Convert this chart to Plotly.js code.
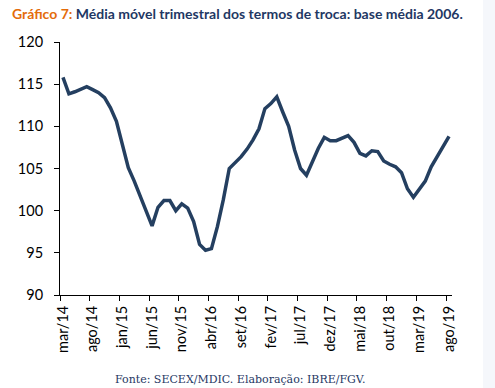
<!DOCTYPE html>
<html>
<head>
<meta charset="utf-8">
<script src="https://cdn.plot.ly/plotly-3.0.1.min.js"></script>
<style>
  html, body { margin: 0; padding: 0; background: #f5f7fb; }
  #chart { width: 483px; height: 388px; background: #ffffff; }
</style>
</head>
<body>
<div id="chart"></div>
<script>
var months = [
  "mar/14","abr/14","mai/14","jun/14","jul/14","ago/14","set/14","out/14","nov/14","dez/14",
  "jan/15","fev/15","mar/15","abr/15","mai/15","jun/15","jul/15","ago/15","set/15","out/15",
  "nov/15","dez/15","jan/16","fev/16","mar/16","abr/16","mai/16","jun/16","jul/16","ago/16",
  "set/16","out/16","nov/16","dez/16","jan/17","fev/17","mar/17","abr/17","mai/17","jun/17",
  "jul/17","ago/17","set/17","out/17","nov/17","dez/17","jan/18","fev/18","mar/18","abr/18",
  "mai/18","jun/18","jul/18","ago/18","set/18","out/18","nov/18","dez/18","jan/19","fev/19",
  "mar/19","abr/19","mai/19","jun/19","jul/19","ago/19"
];
var termsOfTrade = [
  115.8, 113.85, 114.1, 114.4, 114.7, 114.35, 114.0, 113.4, 112.2, 110.6,
  107.8, 105.1, 103.5, 101.8, 100.1, 98.2, 100.4, 101.2, 101.2, 100.0,
  100.8, 100.3, 98.7, 96.0, 95.3, 95.5, 98.1, 101.3, 105.0, 105.7,
  106.4, 107.3, 108.4, 109.7, 112.1, 112.7, 113.5, 111.7, 110.0, 107.2,
  105.0, 104.2, 105.8, 107.4, 108.7, 108.3, 108.3, 108.6, 108.9, 108.1,
  106.8, 106.5, 107.1, 107.0, 105.9, 105.5, 105.2, 104.5, 102.6, 101.6,
  102.5, 103.5, 105.2, 106.4, 107.7, 108.8
];
var yTicks = [90, 95, 100, 105, 110, 115, 120];
var titleLead = "Gráfico 7:";
var titleRest = "Média móvel trimestral dos termos de troca: base média 2006.";
var sourceNote = "Fonte: SECEX/MDIC. Elaboração: IBRE/FGV.";

var trace = {
  type: "scatter",
  mode: "lines",
  x: months,
  y: termsOfTrade,
  line: { color: "#243F60", width: 3.5 },
  hoverinfo: "x+y"
};

var layout = {
  width: 483,
  height: 388,
  margin: { l: 60, r: 31, t: 42, b: 93 },
  paper_bgcolor: "#ffffff",
  plot_bgcolor: "#ffffff",
  showlegend: false,
  font: { family: "Lato, 'Open Sans', sans-serif", size: 14, color: "#000000" },
  title: {
    text: '<span style="color:#E46C0A">' + titleLead + '</span> ' + titleRest,
    font: { family: "Lato, 'Open Sans', sans-serif", size: 14, color: "#1F3864", weight: "bold" },
    xref: "container", x: 12 / 483, xanchor: "left",
    yref: "container", y: 1 - 14 / 388, yanchor: "middle"
  },
  xaxis: {
    type: "category",
    range: [-0.5, 65.5],
    tickmode: "linear",
    tick0: 0,
    dtick: 5,
    tickson: "boundaries",
    ticks: "outside",
    ticklen: 5,
    tickcolor: "#000000",
    tickwidth: 1,
    tickangle: -90,
    ticklabelstandoff: 4,
    showline: true,
    linecolor: "#000000",
    linewidth: 1,
    showgrid: false,
    zeroline: false,
    fixedrange: true,
    tickfont: { family: "Lato, 'Open Sans', sans-serif", size: 14.5, color: "#000000" }
  },
  yaxis: {
    range: [90, 120],
    tickmode: "array",
    tickvals: yTicks,
    ticktext: yTicks.map(String),
    ticks: "outside",
    ticklen: 5,
    tickcolor: "#000000",
    tickwidth: 1,
    ticklabelstandoff: 8,
    showline: true,
    linecolor: "#000000",
    linewidth: 1,
    showgrid: false,
    zeroline: false,
    fixedrange: true,
    tickfont: { family: "Lato, 'Open Sans', sans-serif", size: 14.5, color: "#000000" }
  },
  annotations: [{
    text: sourceNote,
    xref: "paper", yref: "paper",
    x: (240 - 60) / 392,
    y: -(379 - 294.5) / 252.5,
    xanchor: "center", yanchor: "middle",
    showarrow: false,
    font: { family: "'DejaVu Serif', 'Liberation Serif', serif", size: 11, color: "#1F3864" }
  }]
};

Plotly.newPlot("chart", [trace], layout, { displayModeBar: false, staticPlot: true });
</script>
</body>
</html>
